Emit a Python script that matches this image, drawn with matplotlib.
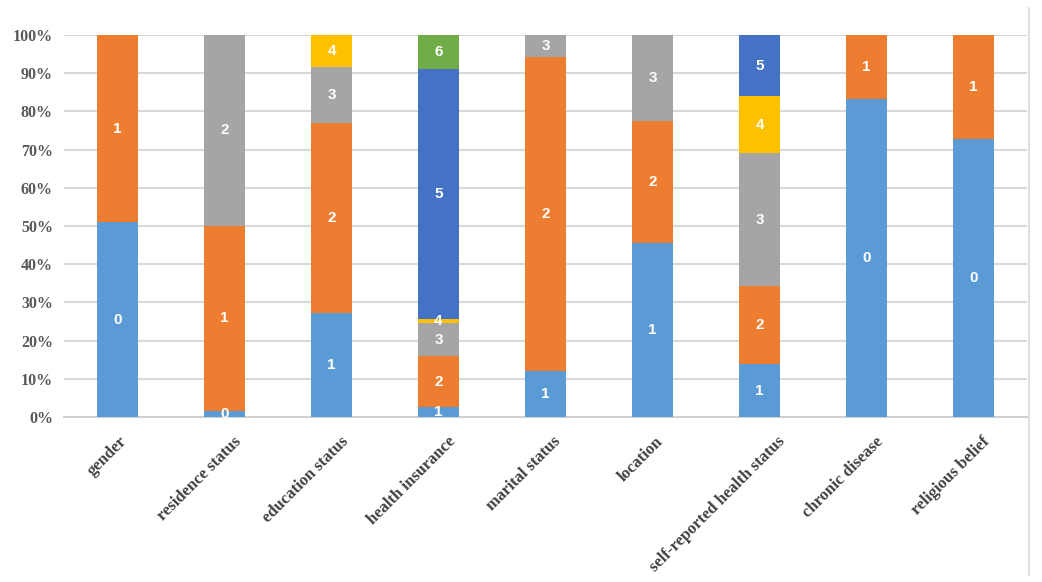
import matplotlib
matplotlib.use("Agg")
import matplotlib.pyplot as plt
from matplotlib.lines import Line2D

categories = ["gender", "residence status", "education status", "health insurance",
              "marital status", "location", "self-reported health status",
              "chronic disease", "religious belief"]

# stacked segment shares (%) from bottom to top for each category
values = [
    [51.0, 49.0],
    [1.6, 48.4, 50.0],
    [27.1, 49.8, 14.7, 8.4],
    [2.5, 13.5, 8.5, 1.1, 65.4, 9.0],
    [12.0, 82.2, 5.8],
    [45.5, 32.0, 22.5],
    [13.8, 20.6, 34.6, 15.0, 16.0],
    [83.2, 16.8],
    [72.8, 27.2],
]

# code labels shown on each segment
codes = [
    ["0", "1"],
    ["0", "1", "2"],
    ["1", "2", "3", "4"],
    ["1", "2", "3", "4", "5", "6"],
    ["1", "2", "3"],
    ["1", "2", "3"],
    ["1", "2", "3", "4", "5"],
    ["0", "1"],
    ["0", "1"],
]

colors = ["#5B9BD5", "#ED7D31", "#A5A5A5", "#FFC000", "#4472C4", "#70AD47"]
yticks = [0, 10, 20, 30, 40, 50, 60, 70, 80, 90, 100]

fig = plt.figure(figsize=(10.42, 5.82), dpi=100)
ax = fig.add_axes([64 / 1042, (582 - 417) / 582, 963 / 1042, 382 / 582])

x = list(range(len(categories)))
max_levels = max(len(v) for v in values)
for lvl in range(max_levels):
    for i, (vals, labs) in enumerate(zip(values, codes)):
        if lvl >= len(vals):
            continue
        bottom = sum(vals[:lvl])
        h = vals[lvl]
        ax.bar(i, h, bottom=bottom, width=0.39, color=colors[lvl], zorder=3)
        ax.text(i, bottom + h / 2, labs[lvl], ha="center", va="center",
                color="white", fontsize=11, fontweight="bold",
                family="Liberation Sans", zorder=4)

ax.set_xlim(-0.5, len(categories) - 0.5)
ax.set_ylim(0, 100)
ax.set_yticks(yticks)
ax.set_yticklabels([f"{t}%" for t in yticks], family="Liberation Serif",
                   fontweight="bold", fontsize=11.5, color="#595959")
ax.set_xticks(x)
ax.set_xticklabels([])
ax.tick_params(axis="both", length=0)
ax.tick_params(axis="y", pad=8)
ax.grid(axis="y", color="#D9D9D9", linewidth=1.5, zorder=0)
for s in ["top", "right", "left"]:
    ax.spines[s].set_visible(False)
ax.spines["bottom"].set_color("#D0D0D0")
ax.spines["bottom"].set_linewidth(1.5)

# rotated category labels
anns = []
for i, c in enumerate(categories):
    a = ax.annotate(c, xy=(i, 0), xycoords=("data", "axes fraction"),
                    xytext=(0, -16), textcoords="offset points",
                    rotation=45, rotation_mode="anchor", ha="right", va="center",
                    family="Liberation Serif", fontweight="bold", fontsize=12,
                    color="#404040")
    anns.append(a)

fig.canvas.draw()
for a in anns:
    w = a.get_window_extent().width  # pixels
    dx = 0.16 * w * 72 / fig.dpi
    a.xyann = (dx, -16)

fig.add_artist(Line2D([1029 / 1042, 1029 / 1042], [1 - 8 / 582, 1 - 575 / 582],
                      color="#D9D9D9", linewidth=1.2, transform=fig.transFigure))

fig.savefig("out.png", dpi=100)
